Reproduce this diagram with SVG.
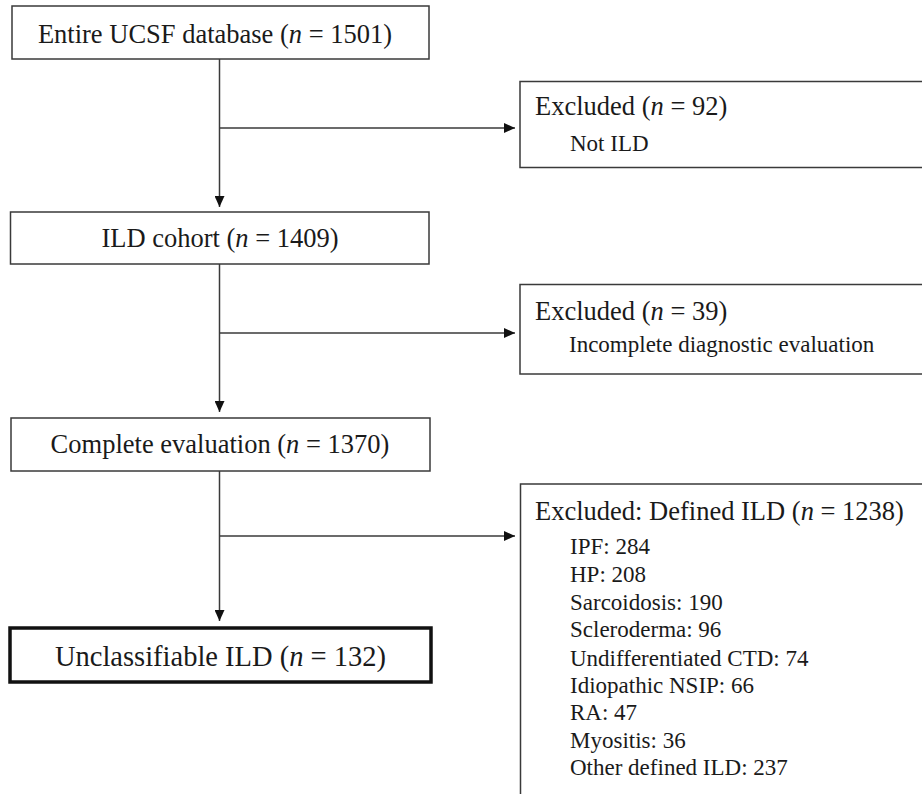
<svg xmlns="http://www.w3.org/2000/svg" width="922" height="794" viewBox="0 0 922 794">
<style>
  .box { fill: #ffffff; stroke: #3a3a3a; stroke-width: 1.5; }
  .thick { fill: #ffffff; stroke: #111111; stroke-width: 3.5; }
  .main { font-family: "Liberation Serif", "Times New Roman", serif; font-size: 26.5px; fill: #1a1a1a; }
  .big { font-family: "Liberation Serif", "Times New Roman", serif; font-size: 28.5px; fill: #1a1a1a; }
  .sub { font-family: "Liberation Serif", "Times New Roman", serif; font-size: 23px; fill: #1a1a1a; }
  .conn { fill: none; stroke: #3a3a3a; stroke-width: 1.5; }
</style>
<defs>
  <marker id="arrow" markerUnits="userSpaceOnUse" markerWidth="12" markerHeight="10" refX="11" refY="5" orient="auto">
    <path d="M0,0 L11,5 L0,10 z" fill="#111111"/>
  </marker>
</defs>
<rect width="922" height="794" fill="#ffffff"/>

<g id="connectors">
  <line class="conn" x1="219.5" y1="59" x2="219.5" y2="207" marker-end="url(#arrow)"/>
  <line class="conn" x1="219.5" y1="128" x2="515" y2="128" marker-end="url(#arrow)"/>
  <line class="conn" x1="219.5" y1="264" x2="219.5" y2="412" marker-end="url(#arrow)"/>
  <line class="conn" x1="219.5" y1="333" x2="515" y2="333" marker-end="url(#arrow)"/>
  <line class="conn" x1="219.5" y1="471" x2="219.5" y2="621" marker-end="url(#arrow)"/>
  <line class="conn" x1="219.5" y1="536" x2="515" y2="536" marker-end="url(#arrow)"/>
</g>

<g id="node-entire">
  <rect class="box" x="12" y="6" width="417" height="53"/>
  <text class="main" x="215" y="43" text-anchor="middle">Entire UCSF database (<tspan font-style="italic">n</tspan> = 1501)</text>
</g>

<g id="node-excluded-1">
  <rect class="box" x="520" y="81.5" width="410" height="86"/>
  <text class="main" x="535" y="115">Excluded (<tspan font-style="italic">n</tspan> = 92)</text>
  <text class="sub" x="570" y="151">Not ILD</text>
</g>

<g id="node-ild-cohort">
  <rect class="box" x="10.5" y="212" width="418.5" height="52"/>
  <text class="main" x="220" y="246.5" text-anchor="middle">ILD cohort (<tspan font-style="italic">n</tspan> = 1409)</text>
</g>

<g id="node-excluded-2">
  <rect class="box" x="520" y="284.5" width="410" height="89.5"/>
  <text class="main" x="535" y="320">Excluded (<tspan font-style="italic">n</tspan> = 39)</text>
  <text class="sub" x="569" y="352">Incomplete diagnostic evaluation</text>
</g>

<g id="node-complete">
  <rect class="box" x="11" y="418" width="419" height="53"/>
  <text class="main" x="220" y="453" text-anchor="middle">Complete evaluation (<tspan font-style="italic">n</tspan> = 1370)</text>
</g>

<g id="node-excluded-3">
  <rect class="box" x="520.5" y="484" width="410" height="330"/>
  <text class="main" x="535" y="520">Excluded: Defined ILD (<tspan font-style="italic">n</tspan> = 1238)</text>
  <text class="sub" x="570" y="554">IPF: 284</text>
  <text class="sub" x="570" y="582">HP: 208</text>
  <text class="sub" x="570" y="610">Sarcoidosis: 190</text>
  <text class="sub" x="570" y="637">Scleroderma: 96</text>
  <text class="sub" x="570" y="666">Undifferentiated CTD: 74</text>
  <text class="sub" x="570" y="693">Idiopathic NSIP: 66</text>
  <text class="sub" x="570" y="720">RA: 47</text>
  <text class="sub" x="570" y="748">Myositis: 36</text>
  <text class="sub" x="570" y="775">Other defined ILD: 237</text>
</g>

<g id="node-unclassifiable">
  <rect class="thick" x="10" y="628" width="421" height="54"/>
  <text class="big" x="220.5" y="666" text-anchor="middle">Unclassifiable ILD (<tspan font-style="italic">n</tspan> = 132)</text>
</g>
</svg>
